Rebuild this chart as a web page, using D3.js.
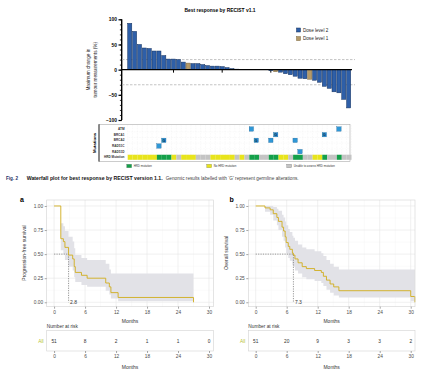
<!DOCTYPE html>
<html>
<head>
<meta charset="utf-8">
<script src="https://cdn.jsdelivr.net/npm/d3@7"></script>
<style>
body { margin: 0; background: #fff; }
svg { display: block; font-family: "Liberation Sans", Arial, sans-serif; }
</style>
</head>
<body>
<svg id="fig" width="433" height="375"></svg>
<script>
// ---- waterfall data (one bar per patient, sorted) ----
const barValues = [92, 76, 50, 43, 42, 37, 37, 28, 21, 21, 20, 15, 13, 12, 12, 10, 8, 7, 7, 6, 4, 2, 1,
    0, 0, 0, 0, 0, 0,
    -2, -4, -5, -8, -10, -13, -17, -18, -19, -21, -25, -33, -37, -44, -46, -59, -76];
const barDose = [2, 2, 2, 2, 2, 2, 2, 2, 2, 2, 2, 2, 1, 2, 2, 2, 2, 2, 2, 2, 2, 2, 2,
    2, 2, 2, 2, 2, 2,
    2, 1, 2, 2, 2, 2, 2, 2, 1, 2, 2, 2, 2, 2, 2, 2, 2];
const doseLabels = ["Dose level 2", "Dose level 1"];
const refLines = [20, -30];

// ---- oncoprint data ----
const genes = ["ATM", "BRCA1", "BRCA2", "RAD51C", "RAD51D"];
// [gene, column, germline]
const mutations = [["ATM", 25, false], ["ATM", 43, false],
    ["BRCA1", 30, true], ["BRCA1", 40, true],
    ["BRCA2", 7, true], ["BRCA2", 26, true], ["BRCA2", 29, false], ["BRCA2", 34, false],
    ["RAD51C", 6, false], ["RAD51D", 35, false]];
// H = HRD mutation, N = no HRD mutation, U = unable to assess
const hrdStatus = "NNNNNNHHHNUNNNUUUNNNNNUNUHHUUHHNNUHHUUNNHUUHUU".split("");
const hrdLabels = {H: "HRD mutation", N: "No HRD mutation", U: "Unable to assess HRD mutation"};

// ---- Kaplan-Meier data ----
const pfsTime = [0, 1.3, 1.8, 2.1, 2.8, 3.6, 3.9, 4.1, 5.3, 6.4, 10.0, 10.7, 11.0, 12.4, 27.0];
const pfsSurv = [1.00, 0.66, 0.63, 0.57, 0.49, 0.45, 0.37, 0.31, 0.28, 0.25, 0.20, 0.16, 0.10, 0.05, 0.00];
const pfsLower = [1.00, 0.54, 0.50, 0.44, 0.37, 0.33, 0.26, 0.21, 0.18, 0.16, 0.12, 0.08, 0.04, 0.01, 0.00];
const pfsUpper = [1.00, 0.82, 0.79, 0.74, 0.68, 0.63, 0.56, 0.49, 0.46, 0.44, 0.40, 0.34, 0.30, 0.30, 0.30];
const pfsMedian = 2.8;

const osTime = [0, 1.8, 2.8, 3.4, 4.1, 4.4, 5.1, 5.4, 5.7, 5.9, 6.3, 6.6, 7.1, 7.3, 7.6, 8.2, 9.0, 9.8, 11.4, 12.7, 13.1, 13.7, 14.4, 15.1, 16.1, 30.0, 30.8];
const osSurv = [1.00, 0.98, 0.96, 0.92, 0.88, 0.84, 0.78, 0.74, 0.68, 0.62, 0.58, 0.55, 0.51, 0.49, 0.45, 0.41, 0.37, 0.35, 0.33, 0.31, 0.27, 0.23, 0.19, 0.16, 0.12, 0.06, 0.00];
const osLower = [1.00, 0.94, 0.91, 0.85, 0.80, 0.75, 0.68, 0.64, 0.57, 0.51, 0.46, 0.43, 0.39, 0.37, 0.33, 0.30, 0.26, 0.24, 0.22, 0.20, 0.17, 0.13, 0.10, 0.07, 0.05, 0.01, 0.00];
const osUpper = [1.00, 1.00, 1.00, 0.99, 0.97, 0.95, 0.91, 0.88, 0.84, 0.80, 0.76, 0.73, 0.69, 0.67, 0.64, 0.60, 0.57, 0.55, 0.53, 0.51, 0.48, 0.44, 0.40, 0.37, 0.34, 0.34, 0.34];
const osMedian = 7.3;

const riskTimes = [0, 6, 12, 18, 24, 30];
const pfsRisk = [51, 8, 2, 1, 1, 0];
const osRisk = [51, 20, 9, 3, 3, 2];

const svg = d3.select("#fig");

const blue = "#2e5fa8", blueDark = "#15305c", tan = "#b59a68", tanDark = "#7d6840";
const kmColor = "#d0ad1c";
const hrdColor = {H: "#14a04a", N: "#e8e41c", U: "#c4c4c4"};

// ================= waterfall =================
const x = d3.scaleBand().domain(d3.range(barValues.length)).range([127.7, 350.7]).paddingInner(0.16);
const y = d3.scaleLinear().domain([-100, 100]).range([120, 19.3]);

svg.append("text")
    .attr("x", 220).attr("y", 12)
    .attr("text-anchor", "middle")
    .attr("font-size", 4.9).attr("font-weight", "bold")
    .text("Best response by RECIST v1.1");

// y axis title
const ytitle = svg.append("text")
    .attr("transform", `translate(92,${y(0)}) rotate(-90)`)
    .attr("text-anchor", "middle")
    .attr("font-size", 4.7).attr("fill", "#222");
ytitle.append("tspan").attr("x", 0).attr("dy", -1.6).text("Maximum change in");
ytitle.append("tspan").attr("x", 0).attr("dy", 6.3).text("tumour measurements (%)");

// minor ticks
svg.append("g")
    .attr("transform", "translate(121.7,0)")
    .call(d3.axisLeft(y).tickValues(d3.range(-100, 101, 10)).tickSize(1.8).tickFormat(""))
    .call(g => g.select(".domain").remove())
    .call(g => g.selectAll("line").attr("stroke", "#000").attr("stroke-width", 0.8));

svg.append("g")
    .attr("transform", "translate(121.7,0)")
    .call(d3.axisLeft(y).tickValues([-100, -50, 0, 50, 100]).tickSize(3.2).tickPadding(1.5))
    .call(g => g.select(".domain").attr("stroke-width", 1.4).attr("d", `M0,${y(100)}V${y(-100)}`))
    .call(g => g.selectAll("line").attr("stroke-width", 1.2))
    .call(g => g.selectAll("text").attr("font-size", 4.9).attr("font-weight", "bold")
        .attr("font-family", "'Liberation Sans', Arial, sans-serif"));

// reference dashed lines
svg.selectAll(".ref")
    .data(refLines)
    .join("line")
    .attr("x1", 122).attr("x2", 355)
    .attr("y1", d => y(d)).attr("y2", d => y(d))
    .attr("stroke", "#b5b5b5").attr("stroke-width", 0.8)
    .attr("stroke-dasharray", "2.5,1.5");

// small x ticks on the baseline every 10 patients
svg.selectAll(".xtick")
    .data([9, 19, 29, 39])
    .join("line")
    .attr("x1", d => x(d) + x.bandwidth() / 2).attr("x2", d => x(d) + x.bandwidth() / 2)
    .attr("y1", y(0)).attr("y2", y(0) + 3)
    .attr("stroke", "#000").attr("stroke-width", 1);

svg.selectAll(".bar")
    .data(barValues)
    .join("rect")
    .attr("class", "bar")
    .attr("x", (d, i) => x(i))
    .attr("width", x.bandwidth())
    .attr("y", d => y(Math.max(0, d)))
    .attr("height", d => Math.abs(y(d) - y(0)))
    .attr("fill", (d, i) => barDose[i] === 1 ? tan : blue)
    .attr("stroke", (d, i) => barDose[i] === 1 ? tanDark : blueDark)
    .attr("stroke-width", 0.5);

svg.append("line")
    .attr("x1", 121.7).attr("x2", 352)
    .attr("y1", y(0)).attr("y2", y(0))
    .attr("stroke", "#000").attr("stroke-width", 1.1);

// dose legend
const doseLeg = svg.append("g").attr("transform", "translate(296.5,28)");
doseLabels.forEach((lab, i) => {
    doseLeg.append("rect")
        .attr("x", 0).attr("y", i * 8.6)
        .attr("width", 4).attr("height", 4)
        .attr("fill", i === 0 ? blue : tan)
        .attr("stroke", i === 0 ? blueDark : tanDark).attr("stroke-width", 0.5);
    doseLeg.append("text")
        .attr("x", 6.5).attr("y", i * 8.6 + 2).attr("dy", "0.35em")
        .attr("font-size", 4.6).attr("fill", "#222")
        .text(lab);
});

// ================= oncoprint =================
const onco = svg.append("g");
const rowY = d3.scaleBand().domain([...genes, "HRD Mutation"]).range([126.2, 160.1]);

onco.append("rect")
    .attr("x", 99).attr("y", 124.3).attr("width", 251).attr("height", 37.3)
    .attr("fill", "#fff").attr("stroke", "#9a9a9a").attr("stroke-width", 0.5);
onco.append("line")
    .attr("x1", 99).attr("x2", 99).attr("y1", 124.3).attr("y2", 161.6)
    .attr("stroke", "#000").attr("stroke-width", 0.8);

// dotted cell grid
onco.selectAll(".vgrid")
    .data(d3.range(barValues.length + 1))
    .join("line")
    .attr("x1", d => 127.7 + d * x.step()).attr("x2", d => 127.7 + d * x.step())
    .attr("y1", 125).attr("y2", rowY("HRD Mutation"))
    .attr("stroke", "#e6e6e6").attr("stroke-width", 0.35).attr("stroke-dasharray", "0.6,1");
onco.selectAll(".hgrid")
    .data(genes)
    .join("line")
    .attr("x1", 127.7).attr("x2", 350.7)
    .attr("y1", d => rowY(d) + rowY.bandwidth()).attr("y2", d => rowY(d) + rowY.bandwidth())
    .attr("stroke", "#e6e6e6").attr("stroke-width", 0.35).attr("stroke-dasharray", "0.6,1");

onco.selectAll(".rowlab")
    .data(rowY.domain())
    .join("text")
    .attr("x", 124.5).attr("y", d => rowY(d) + rowY.bandwidth() / 2).attr("dy", "0.35em")
    .attr("text-anchor", "end").attr("font-size", 3.1).attr("font-weight", "bold").attr("fill", "#333")
    .text(d => d);

onco.append("text")
    .attr("transform", `translate(96,${(124.3 + 161.6) / 2}) rotate(-90)`)
    .attr("text-anchor", "middle").attr("font-size", 4.3).attr("font-weight", "bold")
    .text("Mutations");

onco.selectAll(".hrd")
    .data(hrdStatus)
    .join("rect")
    .attr("x", (d, i) => 127.7 + i * x.step())
    .attr("width", x.step() + 0.05)
    .attr("y", rowY("HRD Mutation") + 0.3)
    .attr("height", rowY.bandwidth() - 0.6)
    .attr("fill", d => hrdColor[d]);

const mutSize = 4.4;
onco.selectAll(".mut")
    .data(mutations)
    .join("rect")
    .attr("x", d => x(d[1]) + x.bandwidth() / 2 - mutSize / 2)
    .attr("y", d => rowY(d[0]) + rowY.bandwidth() / 2 - mutSize / 2)
    .attr("width", mutSize).attr("height", mutSize)
    .attr("fill", "#2f97d6").attr("stroke", "#1b5f91").attr("stroke-width", 0.3);
onco.selectAll(".germ")
    .data(mutations.filter(d => d[2]))
    .join("text")
    .attr("x", d => x(d[1]) + x.bandwidth() / 2)
    .attr("y", d => rowY(d[0]) + rowY.bandwidth() / 2).attr("dy", "0.36em")
    .attr("text-anchor", "middle").attr("font-size", 3.6).attr("font-weight", "bold").attr("fill", "#0c2545")
    .text("G");

// hrd legend
const hrdLegX = {H: 126.7, N: 206.7, U: 286.7};
Object.keys(hrdLabels).forEach(k => {
    svg.append("rect")
        .attr("x", hrdLegX[k]).attr("y", 164.2).attr("width", 5).attr("height", 3.6)
        .attr("fill", hrdColor[k]).attr("stroke", "#777").attr("stroke-width", 0.3);
    svg.append("text")
        .attr("x", hrdLegX[k] + 7).attr("y", 166).attr("dy", "0.35em")
        .attr("font-size", 2.9).attr("fill", "#333")
        .text(hrdLabels[k]);
});

// ================= caption =================
svg.append("text").attr("x", 6).attr("y", 179.5)
    .attr("font-size", 4.6).attr("font-weight", "bold").attr("fill", "#1d2f63")
    .text("Fig. 2");
svg.append("text").attr("x", 26.7).attr("y", 179.5)
    .attr("font-size", 4.6).attr("font-weight", "bold").attr("fill", "#111")
    .attr("textLength", 136).attr("lengthAdjust", "spacingAndGlyphs")
    .text("Waterfall plot for best response by RECIST version 1.1.");
svg.append("text").attr("x", 165.7).attr("y", 179.5)
    .attr("font-size", 4.6).attr("fill", "#444")
    .attr("textLength", 133).attr("lengthAdjust", "spacingAndGlyphs")
    .text("Genomic results labelled with \u2018G\u2019 represent germline alterations.");

// ================= Kaplan-Meier panels =================
function kmPanel({left, right, tag, tagX, ylab, ylabX, times, surv, lower, upper, median, risk}) {
    const kx = d3.scaleLinear().domain([-1.43, 30.83]).range([left, right]);
    const ky = d3.scaleLinear().domain([-0.046, 1.062]).range([306.7, 200]);
    const g = svg.append("g");
    const tickCol = "#4d4d4d";

    g.append("text").attr("x", tagX).attr("y", 202).attr("font-size", 7).attr("font-weight", "bold").text(tag);

    g.append("rect").attr("x", left).attr("y", 200).attr("width", right - left).attr("height", 106.7)
        .attr("fill", "#fff");

    // grid
    g.selectAll(".gxm").data(d3.range(3, 31, 6)).join("line")
        .attr("x1", d => kx(d)).attr("x2", d => kx(d)).attr("y1", 200).attr("y2", 306.7)
        .attr("stroke", "#f3f3f3").attr("stroke-width", 0.4);
    g.selectAll(".gym").data(d3.range(0.125, 1, 0.25)).join("line")
        .attr("x1", left).attr("x2", right).attr("y1", d => ky(d)).attr("y2", d => ky(d))
        .attr("stroke", "#f3f3f3").attr("stroke-width", 0.4);
    g.selectAll(".gx").data(riskTimes).join("line")
        .attr("x1", d => kx(d)).attr("x2", d => kx(d)).attr("y1", 200).attr("y2", 306.7)
        .attr("stroke", "#e6e6e6").attr("stroke-width", 0.6);
    g.selectAll(".gy").data([0, 0.25, 0.5, 0.75, 1]).join("line")
        .attr("x1", left).attr("x2", right).attr("y1", d => ky(d)).attr("y2", d => ky(d))
        .attr("stroke", "#e6e6e6").attr("stroke-width", 0.6);

    const pts = times.map((t, i) => ({t, s: surv[i], lo: lower[i], hi: upper[i]}));

    g.append("path").datum(pts)
        .attr("d", d3.area().curve(d3.curveStepAfter).x(d => kx(d.t)).y0(d => ky(d.lo)).y1(d => ky(d.hi)))
        .attr("fill", "#e2e2e7");

    // median lines
    g.append("path")
        .attr("d", `M${kx(0)},${ky(0.5)}H${kx(median)}V${ky(0)}`)
        .attr("fill", "none").attr("stroke", "#555").attr("stroke-width", 0.6)
        .attr("stroke-dasharray", "1.2,1.2");
    g.append("text").attr("x", kx(median) + 1.5).attr("y", ky(0)).attr("dy", "0.35em")
        .attr("font-size", 5).attr("fill", "#333").text(median.toFixed(1));

    g.append("path").datum(pts)
        .attr("d", d3.line().curve(d3.curveStepAfter).x(d => kx(d.t)).y(d => ky(d.s)))
        .attr("fill", "none").attr("stroke", kmColor).attr("stroke-width", 0.9);

    g.append("rect").attr("x", left).attr("y", 200).attr("width", right - left).attr("height", 106.7)
        .attr("fill", "none").attr("stroke", "#d3d3d3").attr("stroke-width", 0.6);

    g.append("g").attr("transform", `translate(${left},0)`)
        .call(d3.axisLeft(ky).tickValues([0, 0.25, 0.5, 0.75, 1]).tickFormat(d3.format(".2f")).tickSize(2).tickPadding(1.5))
        .call(a => a.select(".domain").remove())
        .call(a => a.selectAll("line").attr("stroke", tickCol).attr("stroke-width", 0.5))
        .call(a => a.selectAll("text").attr("font-size", 4.8).attr("fill", tickCol)
            .attr("font-family", "'Liberation Sans', Arial, sans-serif"));

    g.append("g").attr("transform", "translate(0,306.7)")
        .call(d3.axisBottom(kx).tickValues(riskTimes).tickSize(2).tickPadding(1.5))
        .call(a => a.select(".domain").remove())
        .call(a => a.selectAll("line").attr("stroke", tickCol).attr("stroke-width", 0.5))
        .call(a => a.selectAll("text").attr("font-size", 4.8).attr("fill", tickCol)
            .attr("font-family", "'Liberation Sans', Arial, sans-serif"));

    g.append("text").attr("x", (left + right) / 2).attr("y", 322.5)
        .attr("text-anchor", "middle").attr("font-size", 5).attr("fill", "#333").text("Months");
    g.append("text").attr("transform", `translate(${ylabX},253) rotate(-90)`)
        .attr("text-anchor", "middle").attr("font-size", 5).attr("fill", "#333").text(ylab);

    // number at risk table
    g.append("text").attr("x", left).attr("y", 328)
        .attr("font-size", 4.8).attr("fill", "#333").text("Number at risk");
    g.append("rect").attr("x", left).attr("y", 330.5).attr("width", right - left).attr("height", 20.5)
        .attr("fill", "#fff").attr("stroke", "#d3d3d3").attr("stroke-width", 0.6);
    g.append("text").attr("x", left - 3).attr("y", 341.7).attr("dy", "0.35em")
        .attr("text-anchor", "end").attr("font-size", 4.8).attr("fill", "#b5c234").text("All");
    g.selectAll(".risk").data(risk).join("text")
        .attr("x", (d, i) => kx(riskTimes[i])).attr("y", 341.7).attr("dy", "0.35em")
        .attr("text-anchor", "middle").attr("font-size", 4.8).attr("fill", "#333")
        .text(d => d);
    g.append("g").attr("transform", "translate(0,351)")
        .call(d3.axisBottom(kx).tickValues(riskTimes).tickSize(2).tickPadding(1.5))
        .call(a => a.select(".domain").remove())
        .call(a => a.selectAll("line").attr("stroke", tickCol).attr("stroke-width", 0.5))
        .call(a => a.selectAll("text").attr("font-size", 4.8).attr("fill", tickCol)
            .attr("font-family", "'Liberation Sans', Arial, sans-serif"));
    g.append("text").attr("x", (left + right) / 2).attr("y", 368.5)
        .attr("text-anchor", "middle").attr("font-size", 5).attr("fill", "#333").text("Months");
}

kmPanel({left: 46.7, right: 213.3, tag: "a", tagX: 20, ylab: "Progression-free survival", ylabX: 25.5,
    times: pfsTime, surv: pfsSurv, lower: pfsLower, upper: pfsUpper, median: pfsMedian, risk: pfsRisk});
kmPanel({left: 248.3, right: 415, tag: "b", tagX: 229.5, ylab: "Overall survival", ylabX: 228,
    times: osTime, surv: osSurv, lower: osLower, upper: osUpper, median: osMedian, risk: osRisk});
</script>
</body>
</html>
